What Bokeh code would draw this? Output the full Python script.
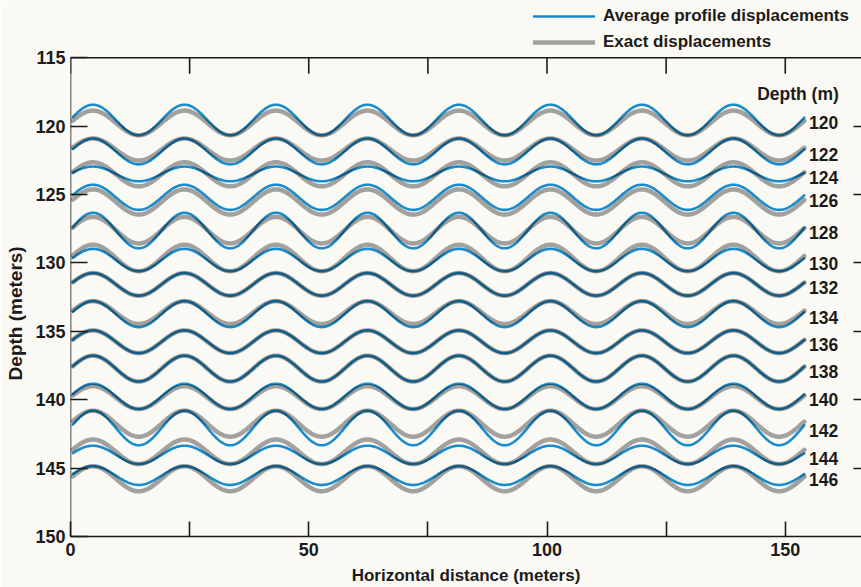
import numpy as np
from bokeh.plotting import figure
from bokeh.models import Range1d, LinearAxis, FixedTicker, Legend, LegendItem, Label, Span
from bokeh.embed import file_html
from bokeh.resources import INLINE
from bokeh.core.properties import value

# ---------------- data ----------------
depth_labels = [120, 122, 124, 126, 128, 130, 132, 134, 136, 138, 140, 142, 144, 146]
# depth (m) of crests (shallowest point) and troughs (deepest point) of each profile
avg_crest = [118.43, 120.90, 122.95, 124.28, 126.33, 128.97, 130.74,
             132.79, 134.93, 136.78, 138.83, 140.80, 143.36, 144.86]
avg_trough = [120.66, 122.79, 124.03, 126.12, 128.93, 130.60, 132.39,
              134.69, 136.59, 138.67, 140.68, 143.33, 144.70, 146.23]
exact_crest = [118.86, 120.90, 122.64, 124.62, 126.63, 128.67, 130.74,
               132.79, 134.93, 136.78, 139.01, 140.80, 142.91, 144.86]
exact_trough = [120.66, 122.51, 124.40, 126.46, 128.57, 130.60, 132.39,
                134.46, 136.59, 138.67, 140.68, 142.70, 144.70, 146.69]
wavelength_m = 19.2        # horizontal distance between crests
first_crest_x = 4.72       # position of the first crest
profile_start_x = 0.5
profile_end_x = 154.0

x_major_ticks = [0, 50, 100, 150]
x_minor_ticks = [25, 75, 125]
y_ticks = [115, 120, 125, 130, 135, 140, 145, 150]
y_inner_ticks = [120, 125, 130, 135, 140, 145]

# ---------------- style ----------------
BG = "#fbf9f4"
BLUE = "#1a8ccb"
INK = "#1b1b1b"
GRAY_INK = "#0c0c0c"
GRAY_ALPHA = 0.37
FONT = "Liberation Sans"
NBSP = "\u00a0"
AXW = 1.6

# the frame reaches the top of the canvas so that the key above the depth axis
# can be drawn; the real top of the graph (115 m) is drawn as a frame line
y_top_of_canvas = 110.81
p = figure(width=861, height=587,
           x_range=Range1d(0, 166), y_range=Range1d(150, y_top_of_canvas),
           output_backend="svg", toolbar_location=None,
           min_border_left=70, min_border_top=0,
           min_border_bottom=51, min_border_right=0)
p.background_fill_color = BG
p.border_fill_color = BG
p.outline_line_color = None
p.grid.grid_line_color = None


def style_axis(ax, tick_in, minor_in=0):
    ax.axis_line_color = INK
    ax.axis_line_width = AXW
    ax.major_tick_line_color = INK
    ax.major_tick_line_width = AXW
    ax.minor_tick_line_color = INK
    ax.minor_tick_line_width = AXW
    ax.major_tick_in = tick_in
    ax.major_tick_out = 0
    ax.minor_tick_in = minor_in
    ax.minor_tick_out = 0
    ax.major_label_text_font = FONT
    ax.major_label_text_font_size = "18px"
    ax.major_label_text_font_style = "bold"
    ax.major_label_text_color = INK
    ax.axis_label_text_font = FONT
    ax.axis_label_text_font_size = "17px"
    ax.axis_label_text_font_style = "bold"
    ax.axis_label_text_color = INK


xb = p.xaxis[0]
xb.ticker = FixedTicker(ticks=x_major_ticks, minor_ticks=x_minor_ticks)
style_axis(xb, 15, 15)
xb.major_label_standoff = 6
xb.axis_label = "Horizontal distance (meters)"
xb.axis_label_standoff = 7

yl = p.yaxis[0]
yl.ticker = FixedTicker(ticks=y_ticks)
style_axis(yl, 17)
yl.axis_line_color = None
yl.major_label_standoff = 5
# trailing no-break spaces move the visible title down to where the original has it
yl.axis_label = "Depth (meters)" + NBSP * 17
yl.axis_label_text_font_size = "19px"
yl.axis_label_standoff = 6

yr = LinearAxis(ticker=FixedTicker(ticks=y_inner_ticks))
style_axis(yr, 8)
yr.axis_line_color = None
yr.major_label_text_color = None
yr.major_label_standoff = 0
p.add_layout(yr, "right")

# frame lines and top ticks of the graph
p.add_layout(Span(location=y_ticks[0], dimension="width", line_color=INK, line_width=AXW))
p.segment(x0=[x_major_ticks[0]], y0=[y_ticks[0]], x1=[x_major_ticks[0]], y1=[y_ticks[-1]],
          line_color=INK, line_width=AXW)
top_tick_x = x_major_ticks + x_minor_ticks
p.ray(x=top_tick_x, y=[y_ticks[0]] * len(top_tick_x), length=16, length_units="screen",
      angle=-np.pi / 2, line_color=INK, line_width=AXW)

# ---------------- profiles ----------------
x = np.linspace(profile_start_x, profile_end_x, 900)
wave = np.cos(2 * np.pi * (x - first_crest_x) / wavelength_m)

blue_rs, gray_rs, end_depths = [], [], []
for i in range(len(depth_labels)):
    c = (avg_crest[i] + avg_trough[i]) / 2
    a = (avg_trough[i] - avg_crest[i]) / 2
    ya = c - a * wave
    end_depths.append(ya[-1])
    blue_rs.append(p.line(x, ya, line_color=BLUE, line_width=2.6,
                          line_join="round", line_cap="round"))

for i in range(len(depth_labels)):
    c = (exact_crest[i] + exact_trough[i]) / 2
    a = (exact_trough[i] - exact_crest[i]) / 2
    ye = c - a * wave
    gray_rs.append(p.line(x, ye, line_color=GRAY_INK, line_alpha=GRAY_ALPHA,
                          line_width=4.5, line_join="round", line_cap="round"))

p.text(x=[155.0] * len(depth_labels), y=end_depths,
       text=[str(d) for d in depth_labels],
       text_font=value(FONT), text_font_size="17.5px", text_font_style="bold",
       text_color=INK, text_align="left", text_baseline="middle", y_offset=5)

p.add_layout(Label(x=144.1, y=117.68, text="Depth (m)",
                   text_font=FONT, text_font_size="17.5px", text_font_style="bold",
                   text_color=INK, text_align="left", text_baseline="middle"))

legend = Legend(items=[LegendItem(label="Average profile displacements", renderers=[blue_rs[0]]),
                       LegendItem(label="Exact displacements", renderers=[gray_rs[0]])],
                location=(463, 483), orientation="vertical",
                glyph_width=62, glyph_height=22, label_height=22, label_standoff=8,
                spacing=4, padding=0, margin=0,
                border_line_color=None, background_fill_alpha=0,
                label_text_font=FONT, label_text_font_size="17px",
                label_text_font_style="bold", label_text_color=INK)
p.add_layout(legend)

open("out.html", "w").write(file_html(p, INLINE))
